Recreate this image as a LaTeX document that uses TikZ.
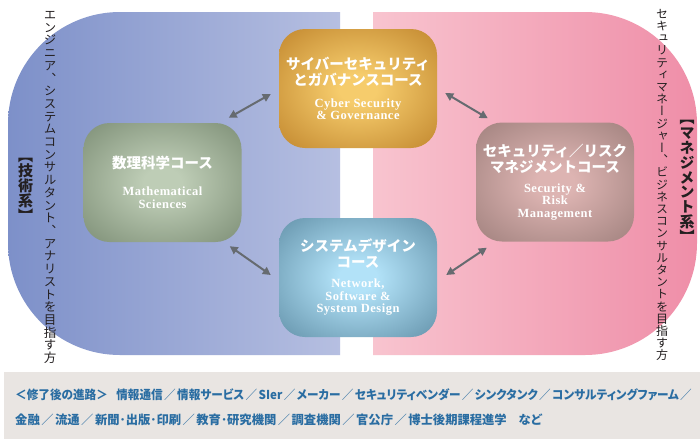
\documentclass[tikz,border=0pt]{standalone}
\usepackage{fontspec}
\usepackage{graphicx}
\usetikzlibrary{arrows.meta}
\newfontfamily\jp{Noto Sans CJK JP}
\newfontfamily\jpp[RawFeature=+palt]{Noto Sans CJK JP}
\newfontfamily\jpv[RawFeature=+vert]{Noto Sans CJK JP}
\newfontfamily\enser[LetterSpace=4]{Liberation Serif}
\definecolor{blueL}{HTML}{7D90C9}
\definecolor{blueR}{HTML}{B6BFE1}
\definecolor{pinkL}{HTML}{F8C4CF}
\definecolor{pinkR}{HTML}{EF8EA8}
\definecolor{bandgray}{HTML}{E9E5E2}
\definecolor{pathblue}{HTML}{2A6DA2}
\definecolor{textdark}{HTML}{231F20}
\definecolor{arrowgray}{HTML}{666B70}
\definecolor{cyIn}{HTML}{F6CC6C}
\definecolor{cyOut}{HTML}{B0701A}
\definecolor{maIn}{HTML}{BECDB6}
\definecolor{maOut}{HTML}{687A61}
\definecolor{riIn}{HTML}{DDB4B2}
\definecolor{riOut}{HTML}{8C706C}
\definecolor{syIn}{HTML}{B2E2F8}
\definecolor{syOut}{HTML}{4A7890}
\pgfdeclareradialshading{shCyber}{\pgfpointorigin}{color(0bp)=(cyIn); color(6bp)=(cyIn); color(46bp)=(cyOut); color(50bp)=(cyOut)}
\pgfdeclareradialshading{shMath}{\pgfpointorigin}{color(0bp)=(maIn); color(6bp)=(maIn); color(46bp)=(maOut); color(50bp)=(maOut)}
\pgfdeclareradialshading{shRisk}{\pgfpointorigin}{color(0bp)=(riIn); color(6bp)=(riIn); color(46bp)=(riOut); color(50bp)=(riOut)}
\pgfdeclareradialshading{shSys}{\pgfpointorigin}{color(0bp)=(syIn); color(6bp)=(syIn); color(46bp)=(syOut); color(50bp)=(syOut)}
\newcommand\courseen[1]{{\enser\bfseries\fontsize{12.5}{12.5}\selectfont #1}}
\newcommand\coursefont{\jp\bfseries\fontsize{14.5}{12.5}\selectfont\lineskiplimit=-50pt\relax}
\newcommand\vfontA{\jpv\fontsize{12.5}{12.7}\selectfont\lineskiplimit=-50pt\relax}
\newcommand\vfontB{\jpv\fontsize{12}{12.2}\selectfont\lineskiplimit=-50pt\relax}
\newcommand\vlabfontA{\jpv\bfseries\fontsize{15}{15}\selectfont\lineskiplimit=-50pt\relax}
\newcommand\vlabfontB{\jpv\bfseries\fontsize{15}{14.8}\selectfont\lineskiplimit=-50pt\relax}
\newcommand\pathfont{\jpp\bfseries\fontsize{12.3}{12.3}\selectfont}
\newcommand\psl{\hspace{1.5pt}{\jp\mdseries ／}\hspace{1.5pt}}
\begin{document}
\begin{tikzpicture}[x=1pt,y=-1pt,
  course/.style={shade, rounded corners=26pt, minimum width=158pt, minimum height=119pt,
    inner sep=0pt, align=center, text=white, font=\coursefont},
  vtext/.style={align=center, inner sep=0pt, text=textdark},
  bottomtext/.style={anchor=west, inner sep=0pt, text=pathblue, font=\pathfont},
  biarrow/.style={{Triangle[length=8pt,width=8pt]}-{Triangle[length=8pt,width=8pt]}, line width=2pt, draw=arrowgray}
]
\useasboundingbox (0,0) rectangle (700,439);
\fill[white] (0,0) rectangle (700,439);
% left zone
\begin{scope}
  \clip[rounded corners=112pt] (8,12) rectangle (560,355);
  \shade[left color=blueL, right color=blueR] (8,12) rectangle (340,355);
\end{scope}
% right zone
\begin{scope}
  \clip[rounded corners=112pt] (150,12) rectangle (697,355);
  \shade[left color=pinkL, right color=pinkR] (373,12) rectangle (697,355);
\end{scope}
% bottom band
\fill[bandgray] (4,372) rectangle (700,439);

% courses
\node[course, shading=shCyber] (cyber) at (358,88.5)
  {サイバーセキュリティ\\[3.5pt]とガバナンスコース\\[9.5pt]\courseen{Cyber Security}\\\courseen{\& Governance}};
\node[course, shading=shMath] (math) at (162.5,182.5)
  {数理科学コース\\[14.5pt]\courseen{Mathematical}\\\courseen{Sciences}};
\node[course, shading=shRisk] (risk) at (555,182)
  {セキュリティ／リスク\\[3.5pt]マネジメントコース\\[7.5pt]\courseen{Security \&}\\\courseen{Risk}\\\courseen{Management}};
\node[course, shading=shSys] (sys) at (358,277.5)
  {システムデザイン\\[3.5pt]コース\\[7.5pt]\courseen{Network,}\\\courseen{Software \&}\\\courseen{System Design}};

% connectors
\draw[biarrow] ([shift={(-13,-5)}]math.north east) -- ([shift={(-8,5.5)}]cyber.west);
\draw[biarrow] ([shift={(8,4.5)}]cyber.east) -- ([shift={(12,-4)}]risk.north west);
\draw[biarrow] ([shift={(-12,4)}]math.south east) -- ([shift={(-8,-2.5)}]sys.west);
\draw[biarrow] ([shift={(9,-2.5)}]sys.east) -- ([shift={(11,6)}]risk.south west);

% vertical texts
\node[vtext, font=\vfontA] (leftdesc) at (50,187.5)
  {エ\\ン\\ジ\\ニ\\ア\\、\\シ\\ス\\テ\\ム\\コ\\ン\\サ\\ル\\タ\\ン\\ト\\、\\ア\\ナ\\リ\\ス\\ト\\を\\目\\指\\す\\方};
\node[vtext, font=\vfontB] (rightdesc) at (662,185)
  {セ\\キ\\ュ\\リ\\テ\\ィ\\マ\\ネ\\ー\\ジ\\ャ\\ー\\、\\ビ\\ジ\\ネ\\ス\\コ\\ン\\サ\\ル\\タ\\ン\\ト\\を\\目\\指\\す\\方};
\node[vtext, font=\vlabfontA] (leftlabel) at (25.5,189.5)
  {【\\技\\術\\系\\】};
\node[vtext, font=\vlabfontB] (rightlabel) at (687,181.5)
  {【\\マ\\ネ\\ジ\\メ\\ン\\ト\\系\\】};

% career paths
\node[bottomtext] (path1) at (15,395)
  {\resizebox{678pt}{\height}{＜修了後の進路＞\hspace{9pt}情報通信\psl 情報サービス\psl SIer\psl メーカー\psl セキュリティベンダー\psl シンクタンク\psl コンサルティングファーム\psl}};
\node[bottomtext] (path2) at (15,419.5)
  {金融\psl 流通\psl 新聞･出版･印刷\psl 教育･研究機関\psl 調査機関\psl 官公庁\psl 博士後期課程進学\hspace{12pt}など};
\end{tikzpicture}
\end{document}
